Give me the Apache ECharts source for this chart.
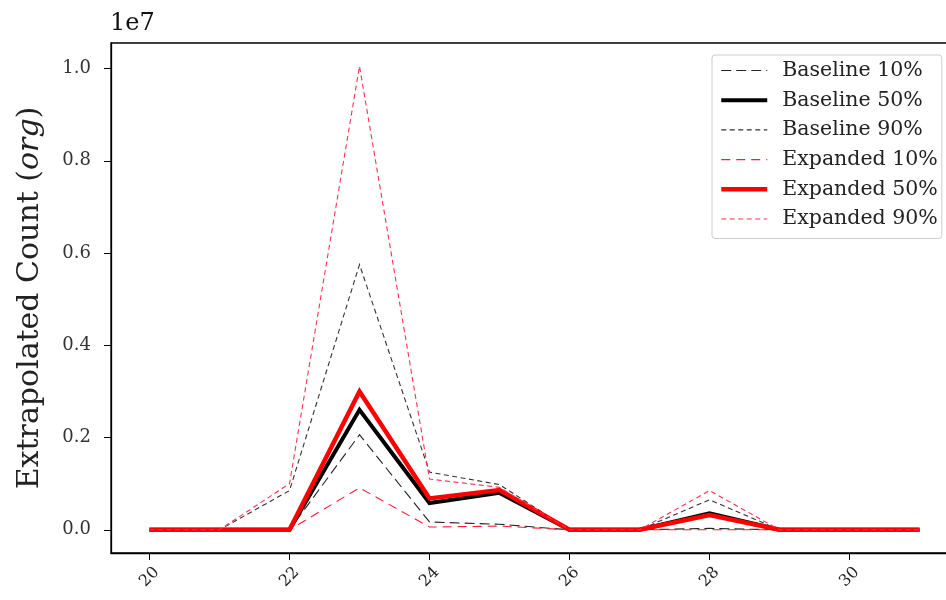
<!DOCTYPE html>
<html>
<head>
<meta charset="utf-8">
<script src="https://cdn.jsdelivr.net/npm/echarts@6/dist/echarts.min.js"></script>
<style>
html,body{margin:0;padding:0;background:#fff;}
#chart{width:946px;height:600px;}
</style>
</head>
<body>
<div id="chart"></div>
<script>
// x categories (integer positions)
const xValues = [20, 21, 22, 23, 24, 25, 26, 27, 28, 29, 30, 31];
// values in units of 1e7
const baseline10 = [0, 0, 0, 0.206, 0.017, 0.012, 0, 0, 0.003, 0, 0, 0];
const baseline50 = [0, 0, 0, 0.26, 0.058, 0.080, 0, 0, 0.036, 0, 0, 0];
const baseline90 = [0, 0, 0.085, 0.575, 0.125, 0.098, 0, 0, 0.065, 0, 0, 0];
const expanded10 = [0, 0, 0, 0.091, 0.006, 0.008, 0, 0, 0, 0, 0, 0];
const expanded50 = [0, 0, 0, 0.30, 0.068, 0.086, 0, 0, 0.032, 0, 0, 0];
const expanded90 = [0, 0, 0.10, 1.005, 0.11, 0.092, 0, 0, 0.085, 0, 0, 0];
const yTicks = [0, 0.2, 0.4, 0.6, 0.8, 1.0];
const xTicks = [20, 22, 24, 26, 28, 30];
const seriesNames = ['Baseline 10%', 'Baseline 50%', 'Baseline 90%', 'Expanded 10%', 'Expanded 50%', 'Expanded 90%'];

const pairs = arr => xValues.map((x, i) => [x, arr[i]]);
const FONT = 'DejaVu Serif';

function mk(name, data, color, width, dash) {
  return {
    name: name, type: 'line', data: pairs(data), symbol: 'none', silent: true,
    lineStyle: { color: color, width: width, type: dash || 'solid', cap: 'butt', join: 'miter' },
    itemStyle: { color: color },
    emphasis: { disabled: true }, animation: false
  };
}

const chart = echarts.init(document.getElementById('chart'), null, { renderer: 'canvas' });
chart.setOption({
  animation: false,
  backgroundColor: '#fff',
  title: {
    text: '1e7', left: 110, top: 12, padding: 0,
    textStyle: { fontFamily: FONT, fontSize: 24, fontWeight: 'normal', color: '#111' }
  },
  legend: {
    orient: 'vertical', left: 712, top: 55,
    padding: [5, 4, 9, 7], itemGap: 8.7, itemWidth: 46, itemHeight: 14,
    backgroundColor: '#fff', borderColor: '#cccccc', borderWidth: 1, borderRadius: 3,
    itemStyle: { opacity: 0 },
    lineStyle: { width: 'inherit' },
    textStyle: { fontFamily: FONT, fontSize: 20.5, color: '#222', padding: [0, 0, 0, 10] },
    data: seriesNames
  },
  grid: {
    left: 111, top: 43, width: 847, height: 510,
    show: true, borderColor: '#000', borderWidth: 1.3, backgroundColor: 'transparent',
    containLabel: false, outerBoundsMode: 'none'
  },
  xAxis: {
    type: 'value', min: 19.45, max: 31.55,
    axisLine: { show: true, onZero: false, lineStyle: { color: '#000', width: 1.3 } },
    axisTick: { show: true, length: 7, lineStyle: { color: '#000' }, customValues: xTicks },
    axisLabel: { customValues: xTicks, rotate: 45, margin: 24, align: 'center', verticalAlign: 'middle',
      fontFamily: FONT, fontSize: 16, color: '#222',
      formatter: v => String(Math.round(v)) },
    splitLine: { show: false }
  },
  yAxis: {
    type: 'value', min: -0.0503, max: 1.0553,
    name: 'Extrapolated Count ({i|org})', nameLocation: 'middle', nameGap: 66, nameRotate: 90,
    nameTextStyle: { fontFamily: FONT, fontSize: 30, color: '#222',
      rich: { i: { fontFamily: FONT, fontSize: 30, fontStyle: 'italic', color: '#222' } } },
    axisLine: { show: true, onZero: false, lineStyle: { color: '#000', width: 1.3 } },
    axisTick: { show: true, length: 7, lineStyle: { color: '#000' }, customValues: yTicks },
    axisLabel: { customValues: yTicks, margin: 20, fontFamily: FONT, fontSize: 18, color: '#333',
      formatter: v => v.toFixed(1) },
    splitLine: { show: false }
  },
  series: [
    mk(seriesNames[0], baseline10, '#222', 1.1, [10, 5]),
    mk(seriesNames[1], baseline50, '#000', 4, 'solid'),
    mk(seriesNames[2], baseline90, '#333', 1.1, [5, 3.5]),
    mk(seriesNames[3], expanded10, '#ff1a3a', 1.1, [9, 6]),
    mk(seriesNames[4], expanded50, '#ff0000', 4.5, 'solid'),
    mk(seriesNames[5], expanded90, '#ff3050', 1.1, [5, 3.5])
  ]
});
</script>
</body>
</html>
